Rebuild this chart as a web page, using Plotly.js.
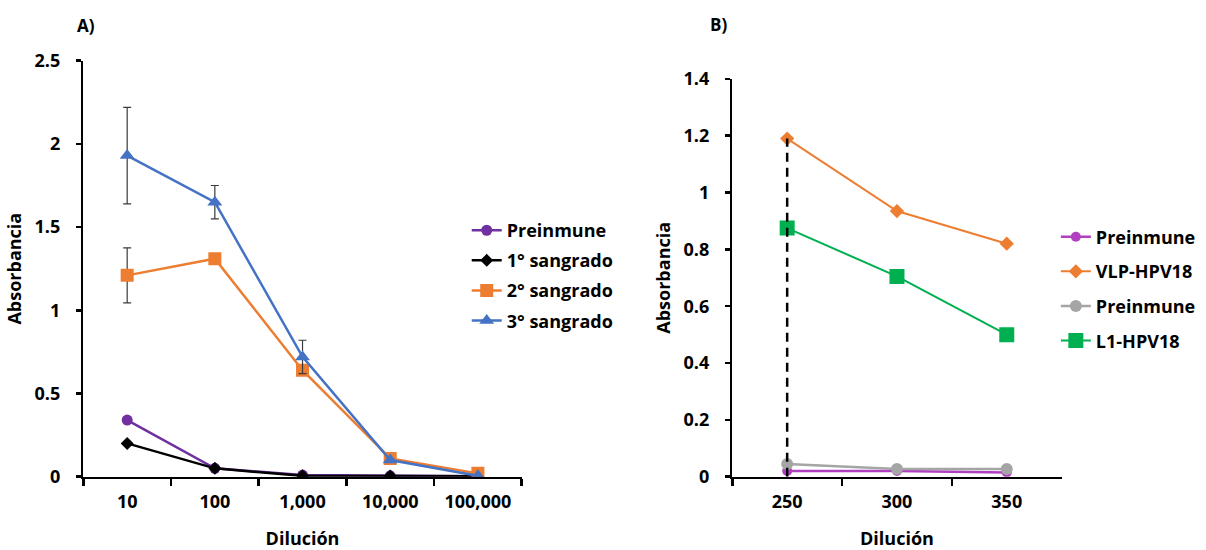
<!DOCTYPE html>
<html>
<head>
<meta charset="utf-8">
<script src="https://cdn.plot.ly/plotly-3.0.1.min.js"></script>
<style>html,body{margin:0;padding:0;background:#fff;}#chart{width:1206px;height:550px;}</style>
</head>
<body>
<div id="chart"></div>
<script>
// Panel A data
const catsA = ["10", "100", "1,000", "10,000", "100,000"];
const preinmuneA = [0.34, 0.05, 0.01, 0.005, 0.002];
const sangrado1 = [0.20, 0.05, 0.005, 0.004, 0.002];
const sangrado2 = [1.21, 1.31, 0.64, 0.11, 0.02];
const sangrado2Err = [0.165, 0, 0, 0, 0];
const sangrado3 = [1.93, 1.65, 0.72, 0.10, 0.005];
const sangrado3Err = [0.29, 0.10, 0.10, 0, 0];
const yTicksA = [0, 0.5, 1, 1.5, 2, 2.5];

// Panel B data
const catsB = ["250", "300", "350"];
const preinmuneB1 = [0.02, 0.02, 0.015];
const vlpHPV18 = [1.19, 0.935, 0.82];
const preinmuneB2 = [0.045, 0.027, 0.027];
const l1HPV18 = [0.875, 0.705, 0.50];
const yTicksB = [0, 0.2, 0.4, 0.6, 0.8, 1, 1.2, 1.4];

const FONT = "'Open Sans', Lato, sans-serif";
const tickFont = {family: FONT, size: 18, color: '#000', weight: 'bold'};

function line(x, y, name, color, symbol, size, xa, ya, leg, group, lw, err) {
  const t = {
    x: x, y: y, name: name, type: 'scatter', mode: 'lines+markers',
    xaxis: xa, yaxis: ya, legend: leg, legendgroup: group,
    line: {color: color, width: lw},
    marker: {color: color, symbol: symbol, size: size, line: {width: 0}}
  };
  if (err) {
    t.error_y = {type: 'data', array: err, visible: true, color: '#3a3a3a', thickness: 1.2, width: 4};
  }
  return t;
}

const traces = [
  line(catsA, preinmuneA, 'Preinmune', '#7030A0', 'circle', 11, 'x', 'y', 'legend', 'a1', 2.5),
  line(catsA, sangrado1, '1° sangrado', '#000000', 'diamond', 10, 'x', 'y', 'legend', 'a2', 2.5),
  line(catsA, sangrado2, '2° sangrado', '#ED7D31', 'square', 13, 'x', 'y', 'legend', 'a3', 2.5, sangrado2Err),
  line(catsA, sangrado3, '3° sangrado', '#4472C4', 'triangle-up', 13, 'x', 'y', 'legend', 'a4', 2.5, sangrado3Err),
  line(catsB, preinmuneB1, 'Preinmune', '#B040C0', 'circle', 10, 'x2', 'y2', 'legend2', 'b1', 2.5),
  line(catsB, vlpHPV18, 'VLP-HPV18', '#ED7D31', 'diamond', 11, 'x2', 'y2', 'legend2', 'b2', 2),
  line(catsB, preinmuneB2, 'Preinmune', '#A5A5A5', 'circle', 12, 'x2', 'y2', 'legend2', 'b3', 2.5),
  line(catsB, l1HPV18, 'L1-HPV18', '#00B050', 'square', 15, 'x2', 'y2', 'legend2', 'b4', 2),
  {
    x: [catsB[0], catsB[0]], y: [0, vlpHPV18[0]], type: 'scatter', mode: 'lines',
    xaxis: 'x2', yaxis: 'y2', showlegend: false, hoverinfo: 'skip',
    line: {color: '#000', width: 2.5, dash: '9px,6px'}
  }
];

function xAxis(domain, n) {
  return {
    domain: domain, type: 'category', range: [-0.5, n - 0.5],
    tickson: 'boundaries', ticks: 'outside', ticklen: 7, tickwidth: 2.5, tickcolor: '#000',
    showline: true, linewidth: 2.5, linecolor: '#000', showgrid: false, zeroline: false,
    tickfont: tickFont, ticklabelstandoff: 7,
    title: {text: 'Dilución', font: tickFont, standoff: 23}
  };
}
function yAxis(domain, range, ticks, anchor) {
  return {
    domain: domain, range: range, anchor: anchor, tickmode: 'array', tickvals: ticks,
    ticks: 'outside', ticklen: 5, tickwidth: 2.5, tickcolor: '#000',
    showline: true, linewidth: 2.5, linecolor: '#000', showgrid: false, zeroline: false,
    tickfont: tickFont, ticklabelstandoff: 12,
    title: {text: 'Absorbancia', font: tickFont, standoff: 8}
  };
}

const layout = {
  width: 1206, height: 550,
  margin: {l: 0, r: 0, t: 0, b: 0, autoexpand: false},
  paper_bgcolor: '#fff', plot_bgcolor: 'rgba(0,0,0,0)',
  showlegend: true,
  xaxis: Object.assign(xAxis([0.0691, 0.4326], catsA.length), {anchor: 'y'}),
  yaxis: yAxis([0.1333, 0.8896], [0, 2.5], yTicksA, 'x'),
  xaxis2: Object.assign(xAxis([0.6072, 0.8803], catsB.length), {anchor: 'y2'}),
  yaxis2: yAxis([0.1333, 0.8565], [0, 1.4], yTicksB, 'x2'),
  legend: {
    x: 0.387, y: 0.499, xanchor: 'left', yanchor: 'middle',
    font: tickFont, bgcolor: 'rgba(0,0,0,0)', borderwidth: 0,
    traceorder: 'grouped', tracegroupgap: 3.7, itemwidth: 30
  },
  legend2: {
    x: 0.8755, y: 0.4745, xanchor: 'left', yanchor: 'middle',
    font: tickFont, bgcolor: 'rgba(0,0,0,0)', borderwidth: 0,
    traceorder: 'grouped', tracegroupgap: 8.2, itemwidth: 30
  },
  annotations: [
    {text: 'A)', x: 86 / 1206, y: 1 - 26 / 550, xref: 'paper', yref: 'paper', showarrow: false,
     xanchor: 'center', yanchor: 'middle', font: {family: FONT, size: 17, color: '#000', weight: 'bold'}},
    {text: 'B)', x: 718 / 1206, y: 1 - 25 / 550, xref: 'paper', yref: 'paper', showarrow: false,
     xanchor: 'center', yanchor: 'middle', font: {family: FONT, size: 17, color: '#000', weight: 'bold'}}
  ]
};

Plotly.newPlot('chart', traces, layout, {displayModeBar: false, staticPlot: true});
</script>
</body>
</html>
